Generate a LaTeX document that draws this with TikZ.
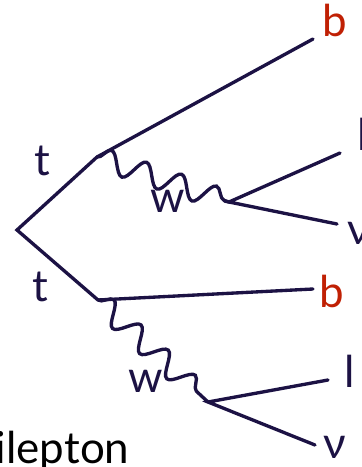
\documentclass[tikz,border=0pt]{standalone}
\usepackage{fontspec}
\setmainfont{Lato}
\usetikzlibrary{decorations.pathmorphing}
\definecolor{ink}{RGB}{28,18,68}
\definecolor{quark}{RGB}{192,32,4}

\begin{document}
\begin{tikzpicture}[x=0.02cm,y=-0.02cm,line cap=round,line width=1.9pt,
  font=\fontsize{25}{25}\selectfont,
  lbl/.style={inner sep=0pt,anchor=base,text=ink},
  qlbl/.style={lbl,text=quark},
  boson/.style={decorate,decoration={snake,amplitude=0.22cm,segment length=0.74cm}}]
\useasboundingbox (0,0) rectangle (362,467);
% vertices
\coordinate (o) at (17,230);
\coordinate (top1) at (97,157);
\coordinate (top2) at (98,300);
\coordinate (wdec1) at (229,202);
\coordinate (wdec2) at (208,402);
% free ends
\coordinate (b1end) at (313,39);
\coordinate (l1end) at (340,153);
\coordinate (n1end) at (337,224);
\coordinate (b2end) at (313,289);
\coordinate (l2end) at (328,380);
\coordinate (n2end) at (315,445);
% labels
\node[qlbl] (b1) at (335,36) {b};
\node[lbl,anchor=base west] (l1) at (356,150) {l};
\node[lbl,anchor=base west] (n1) at (346,244) {ν};
\node[lbl] (t1) at (42,175) {t};
\node[lbl] (w1) at (168,212) {w};
\node[qlbl] (b2) at (332,307) {b};
\node[lbl] (l2) at (350,387) {l};
\node[lbl] (n2) at (335,458) {ν};
\node[lbl] (t2) at (40,301) {t};
\node[lbl] (w2) at (146,392) {w};
\node[lbl,anchor=base east,text=black] (dil) at (131,463) {dilepton};
% lines
\begin{scope}[draw=ink]
\draw (top1) -- (o) -- (top2);
\draw (top1) -- (b1end);
\draw (top2) -- (b2end);
\draw[boson] (top1) -- (wdec1);
\draw[boson] (top2) -- (wdec2);
\draw (l1end) -- (wdec1) -- (n1end);
\draw (l2end) -- (wdec2) -- (n2end);
\end{scope}
\end{tikzpicture}
\end{document}
